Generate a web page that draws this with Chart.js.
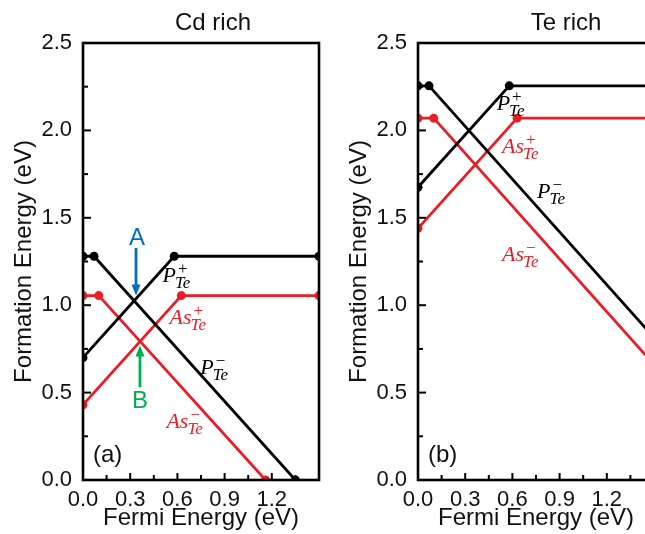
<!DOCTYPE html>
<html><head><meta charset="utf-8">
<script src="https://cdn.jsdelivr.net/npm/chart.js@4.4.1/dist/chart.umd.min.js"></script>
<style>
html,body{margin:0;padding:0;background:#fff;overflow:hidden;width:645px;height:534px;}
#wrap{position:relative;width:645px;height:534px;overflow:hidden;background:#fff;}
canvas{position:absolute;top:0;}
</style></head><body>
<div id="wrap">
<canvas id="cd" width="330" height="534" style="left:0px"></canvas>
<canvas id="te" width="330" height="534" style="left:335px"></canvas>
</div>
<script>
// ---------- data ----------
const panelTitles = ['Cd rich', 'Te rich'];
const panelTags = ['(a)', '(b)'];
const xTickValues = [0, 0.3, 0.6, 0.9, 1.2, 1.5];
const yTickValues = [0, 0.5, 1.0, 1.5, 2.0, 2.5];

// Cd rich
const cdPplusX  = [0, 0.58, 1.5];   const cdPplusY  = [0.70, 1.28, 1.28];
const cdPminusX = [0, 0.07, 1.35];  const cdPminusY = [1.28, 1.28, 0.0];
const cdAsplusX = [0, 0.625, 1.5];  const cdAsplusY = [0.43, 1.055, 1.055];
const cdAsminusX= [0, 0.10, 1.16];  const cdAsminusY= [1.055, 1.055, 0.0];

// Te rich
const tePplusX  = [0, 0.58, 1.5];   const tePplusY  = [1.675, 2.255, 2.255];
const tePminusX = [0, 0.07, 1.5];   const tePminusY = [2.255, 2.255, 0.815];
const teAsplusX = [0, 0.63, 1.5];   const teAsplusY = [1.44, 2.07, 2.07];
const teAsminusX= [0, 0.10, 1.5];   const teAsminusY= [2.07, 2.07, 0.66];

// ---------- styling ----------
const BLACK = '#000000';
const RED = 'rgb(236,28,36)';
const BLUE = 'rgb(0,112,192)';
const GREEN = 'rgb(0,176,80)';
const SANS = '"Liberation Sans", Arial, sans-serif';
const SERIF = '"Liberation Serif", "Times New Roman", serif';

function pts(xs, ys) { return xs.map((x, i) => ({x: x, y: ys[i]})); }
function ds(xs, ys, color) {
  return {
    data: pts(xs, ys), borderColor: color, backgroundColor: color,
    borderWidth: 2.8, pointRadius: 4.5, pointHoverRadius: 4.5,
    pointBackgroundColor: color, pointBorderWidth: 0, tension: 0
  };
}

const decorPlugin = {
  id: 'decor',
  afterDatasetsDraw(chart, args, o) {
    const {ctx, chartArea: a} = chart;
    const sx = chart.scales.x, sy = chart.scales.y;
    ctx.save();
    // frame
    ctx.strokeStyle = '#000'; ctx.lineWidth = 2.6;
    ctx.strokeRect(a.left, a.top, a.right - a.left, a.bottom - a.top);
    // inward ticks
    ctx.lineWidth = 2;
    const xt = xTickValues;
    for (let i = 0; i < xt.length; i++) {
      const px = sx.getPixelForValue(xt[i]);
      ctx.beginPath(); ctx.moveTo(px, a.bottom); ctx.lineTo(px, a.bottom - 7); ctx.stroke();
      if (i < xt.length - 1) {
        const pm = sx.getPixelForValue((xt[i] + xt[i + 1]) / 2);
        ctx.beginPath(); ctx.moveTo(pm, a.bottom); ctx.lineTo(pm, a.bottom - 5); ctx.stroke();
      }
    }
    const yt = yTickValues;
    for (let i = 0; i < yt.length; i++) {
      const py = sy.getPixelForValue(yt[i]);
      ctx.beginPath(); ctx.moveTo(a.left, py); ctx.lineTo(a.left + 8, py); ctx.stroke();
      if (i < yt.length - 1) {
        const pm = sy.getPixelForValue((yt[i] + yt[i + 1]) / 2);
        ctx.beginPath(); ctx.moveTo(a.left, pm); ctx.lineTo(a.left + 5, pm); ctx.stroke();
      }
    }
    // panel title
    ctx.fillStyle = '#111';
    ctx.font = '24px ' + SANS;
    ctx.textAlign = 'center'; ctx.textBaseline = 'middle';
    ctx.fillText(o.title, o.titleX, 23);
    // panel tag
    ctx.textAlign = 'left';
    ctx.fillText(o.tag, a.left + 10, 455);
    // defect labels
    o.labels.forEach(L => {
      const px = sx.getPixelForValue(L.x), py = sy.getPixelForValue(L.y);
      ctx.fillStyle = L.color; ctx.textAlign = 'left'; ctx.textBaseline = 'alphabetic';
      ctx.font = 'italic 22px ' + SERIF;
      ctx.fillText(L.base, px, py);
      const w = ctx.measureText(L.base).width;
      ctx.font = 'italic 17px ' + SERIF;
      ctx.fillText(L.sub, px + w - 1, py + 6);
      ctx.font = '17px ' + SERIF;
      ctx.fillText(L.sup, px + w + 2, py - 8);
    });
    // arrows with letters
    (o.arrows || []).forEach(A => {
      const px = sx.getPixelForValue(A.x);
      const y1 = sy.getPixelForValue(A.from), y2 = sy.getPixelForValue(A.to);
      const dir = Math.sign(y2 - y1);
      ctx.strokeStyle = A.color; ctx.fillStyle = A.color; ctx.lineWidth = 2.8;
      ctx.beginPath(); ctx.moveTo(px, y1); ctx.lineTo(px, y2 - dir * 8); ctx.stroke();
      ctx.beginPath(); ctx.moveTo(px, y2); ctx.lineTo(px - 4.5, y2 - dir * 11);
      ctx.lineTo(px + 4.5, y2 - dir * 11); ctx.closePath(); ctx.fill();
      ctx.font = '24px ' + SANS; ctx.textAlign = 'center'; ctx.textBaseline = 'middle';
      ctx.fillText(A.text, sx.getPixelForValue(A.tx), sy.getPixelForValue(A.ty));
    });
    ctx.restore();
  }
};

function makeChart(id, datasets, deco) {
  return new Chart(document.getElementById(id), {
    type: 'line',
    data: {datasets: datasets},
    plugins: [decorPlugin],
    options: {
      responsive: false, animation: false, devicePixelRatio: 1,
      layout: {padding: {top: 43, right: 11, left: 0, bottom: 0}},
      plugins: {legend: {display: false}, tooltip: {enabled: false}, title: {display: false}, decor: deco},
      scales: {
        x: {
          type: 'linear', min: 0, max: 1.5,
          afterBuildTicks: s => { s.ticks = xTickValues.map(v => ({value: v})); },
          afterFit: s => { s.height = 54; },
          grid: {display: false, drawTicks: false}, border: {display: false},
          ticks: {autoSkip: false, maxRotation: 0, padding: 7, color: '#111',
                  font: {family: SANS, size: 22},
                  callback: v => (v > 1.45 ? '' : v.toFixed(1))},
          title: {display: true, text: 'Fermi Energy (eV)', color: '#111',
                  font: {family: SANS, size: 24}, padding: {top: 0, bottom: 1}}
        },
        y: {
          type: 'linear', min: 0, max: 2.5,
          afterBuildTicks: s => { s.ticks = yTickValues.map(v => ({value: v})); },
          afterFit: s => { s.width = 83; },
          grid: {display: false, drawTicks: false}, border: {display: false},
          ticks: {padding: 11, color: '#111', font: {family: SANS, size: 22},
                  callback: v => v.toFixed(1)},
          title: {display: true, text: 'Formation Energy (eV)', color: '#111',
                  font: {family: SANS, size: 24}, padding: {top: 10, bottom: 0}}
        }
      }
    }
  });
}

makeChart('cd', [
  ds(cdPplusX, cdPplusY, BLACK), ds(cdPminusX, cdPminusY, BLACK),
  ds(cdAsplusX, cdAsplusY, RED), ds(cdAsminusX, cdAsminusY, RED)
], {
  title: panelTitles[0], titleX: 213, tag: panelTags[0],
  labels: [
    {base: 'P', sub: 'Te', sup: '+', x: 0.505, y: 1.13, color: BLACK},
    {base: 'As', sub: 'Te', sup: '+', x: 0.55, y: 0.895, color: RED},
    {base: 'P', sub: 'Te', sup: '\u2212', x: 0.745, y: 0.605, color: BLACK},
    {base: 'As', sub: 'Te', sup: '\u2212', x: 0.53, y: 0.30, color: RED}
  ],
  arrows: [
    {text: 'A', color: BLUE, x: 0.337, from: 1.327, to: 1.055, tx: 0.343, ty: 1.382},
    {text: 'B', color: GREEN, x: 0.362, from: 0.53, to: 0.77, tx: 0.362, ty: 0.452}
  ]
});

makeChart('te', [
  ds(tePplusX, tePplusY, BLACK), ds(tePminusX, tePminusY, BLACK),
  ds(teAsplusX, teAsplusY, RED), ds(teAsminusX, teAsminusY, RED)
], {
  title: panelTitles[1], titleX: 231, tag: panelTags[1],
  labels: [
    {base: 'P', sub: 'Te', sup: '+', x: 0.50, y: 2.117, color: BLACK},
    {base: 'As', sub: 'Te', sup: '+', x: 0.534, y: 1.87, color: RED},
    {base: 'P', sub: 'Te', sup: '\u2212', x: 0.757, y: 1.615, color: BLACK},
    {base: 'As', sub: 'Te', sup: '\u2212', x: 0.534, y: 1.255, color: RED}
  ],
  arrows: []
});
</script>
</body></html>
